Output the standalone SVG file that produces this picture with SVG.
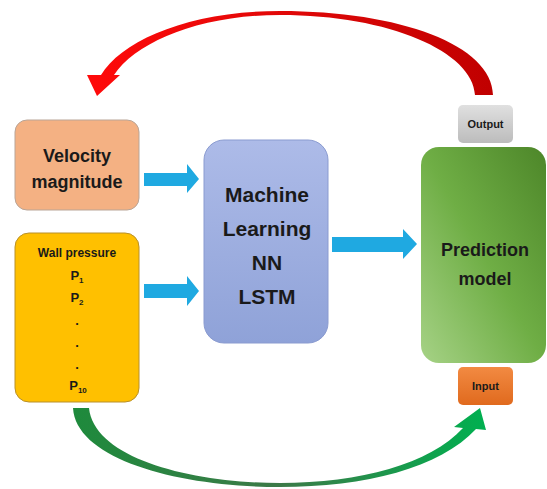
<svg xmlns="http://www.w3.org/2000/svg" width="547" height="489" viewBox="0 0 547 489">
<defs>
<linearGradient id="gRed" x1="0" y1="0" x2="1" y2="0">
<stop offset="0" stop-color="#ff0a0a"/><stop offset="0.5" stop-color="#e00808"/><stop offset="1" stop-color="#c00000"/>
</linearGradient>
<linearGradient id="gGreen" x1="0" y1="0" x2="1" y2="0">
<stop offset="0" stop-color="#1e8a3c"/><stop offset="0.5" stop-color="#3c7a48"/><stop offset="1" stop-color="#00b050"/>
</linearGradient>
<linearGradient id="gML" x1="0" y1="0" x2="0" y2="1">
<stop offset="0" stop-color="#adbbe8"/><stop offset="1" stop-color="#8fa2d8"/>
</linearGradient>
<linearGradient id="gPred" x1="1" y1="0" x2="0" y2="1">
<stop offset="0" stop-color="#4d8629"/><stop offset="0.5" stop-color="#6fae45"/><stop offset="1" stop-color="#a6d286"/>
</linearGradient>
<linearGradient id="gOut" x1="0" y1="0" x2="0" y2="1">
<stop offset="0" stop-color="#e0e0e0"/><stop offset="1" stop-color="#bcbcbc"/>
</linearGradient>
<linearGradient id="gIn" x1="0" y1="0" x2="0" y2="1">
<stop offset="0" stop-color="#f28a42"/><stop offset="1" stop-color="#e06a1e"/>
</linearGradient>
</defs>
<style>
text{font-family:"Liberation Sans",Arial,sans-serif;font-weight:bold;fill:#1a1a1a;text-anchor:middle}
.blue{fill:#1fa9e1}
</style>
<g id="connectors">
<path id="red-arrow" fill="url(#gRed)" d="M 493 95 C 492 45 400 11 280 11 C 190 11 122 40 101 75 L 87 75 L 97 96 L 120 75 L 114 75 C 136 42 200 15 280 15 C 390 15 473 52 475 95 Z"/>
<path id="green-arrow" fill="url(#gGreen)" d="M 73 408 C 76 460 180 487 280 487 C 365 487 440 468 476 429 L 486 430 L 480 408 L 454 427 L 463 428 C 430 464 360 483 280 483 C 190 483 94 458 89 408 Z"/>
<path class="blue" d="M 144 173 L 187 173 L 187 164 L 199 179 L 187 193 L 187 186 L 144 186 Z"/>
<path class="blue" d="M 144 284 L 187 284 L 187 276 L 199 291 L 187 306 L 187 298 L 144 298 Z"/>
<path class="blue" d="M 332 237 L 403 237 L 403 229 L 417 244 L 403 259 L 403 252 L 332 252 Z"/>
</g>
<g id="velocity">
<rect x="15" y="120" width="124" height="90" rx="12" fill="#f4b183" stroke="#b9a597" stroke-width="1"/>
<text x="77" y="162" font-size="18">Velocity</text>
<text x="77" y="188" font-size="18">magnitude</text>
</g>
<g id="wall">
<rect x="15" y="233" width="124" height="169" rx="14" fill="#ffc000" stroke="#b8902a" stroke-width="1"/>
<text x="77" y="257" font-size="12">Wall pressure</text>
<text x="77" y="280" font-size="13">P<tspan font-size="8" dy="3">1</tspan></text>
<text x="77" y="302" font-size="13">P<tspan font-size="8" dy="3">2</tspan></text>
<text x="77" y="325" font-size="13">.</text>
<text x="77" y="347" font-size="13">.</text>
<text x="77" y="369" font-size="13">.</text>
<text x="78" y="390" font-size="13">P<tspan font-size="8" dy="3">10</tspan></text>
</g>
<g id="ml">
<rect x="204" y="140" width="124" height="203" rx="20" fill="url(#gML)" stroke="#8a9bd0" stroke-width="1"/>
<text x="267" y="202" font-size="21">Machine</text>
<text x="267" y="236" font-size="21">Learning</text>
<text x="267" y="270" font-size="21">NN</text>
<text x="267" y="304" font-size="21">LSTM</text>
</g>
<g id="prediction">
<rect x="421" y="147" width="125" height="216" rx="18" fill="url(#gPred)"/>
<text x="485" y="256" font-size="18">Prediction</text>
<text x="485" y="285" font-size="18">model</text>
</g>
<g id="output">
<rect x="458" y="105" width="55" height="38" rx="5" fill="url(#gOut)"/>
<text x="485.5" y="128" font-size="11">Output</text>
</g>
<g id="input">
<rect x="458" y="367" width="55" height="38" rx="5" fill="url(#gIn)"/>
<text x="485.5" y="390" font-size="11">Input</text>
</g>
</svg>
